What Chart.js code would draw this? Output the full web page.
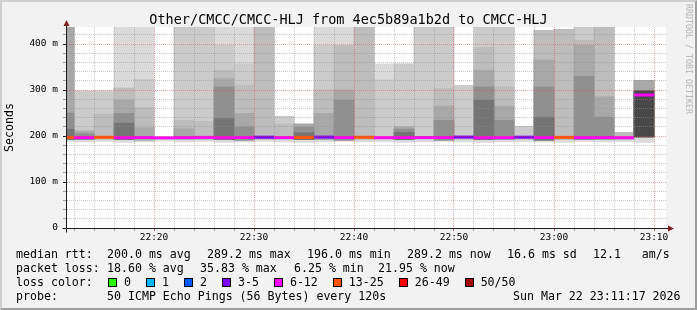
<!DOCTYPE html>
<html>
<head>
<meta charset="utf-8">
<script src="https://cdn.jsdelivr.net/npm/chart.js@4.4.1/dist/chart.umd.min.js"></script>
<style>
  body { margin: 0; background: #f2f2f2; }
  #wrap { position: relative; width: 697px; height: 310px; background: #f2f2f2; overflow: hidden;
          font-family: "DejaVu Sans Mono", monospace; color: #000; }
  #chart { position: absolute; left: 0; top: 0; }
  #frame { position: absolute; left: 0; top: 0; width: 697px; height: 310px; box-sizing: border-box;
           border-style: solid; border-width: 2px; border-color: #cfcfcf #9e9e9e #9e9e9e #cfcfcf; }
  .t { position: absolute; white-space: pre; font-size: 11.6px; line-height: 14px; }
  #title { position: absolute; left: 0; width: 697px; top: 11px; text-align: center; font-size: 13.5px;
           line-height: 16px; white-space: pre; }
  #mark { position: absolute; left: 694px; top: 4px; transform: rotate(90deg); transform-origin: 0 0;
          font-size: 8.3px; line-height: 10px; color: #b4b4b4; white-space: pre; }
  #lossLegend { position: absolute; left: 108px; top: 275px; display: flex; align-items: center;
                font-size: 11.6px; line-height: 14px; white-space: pre; }
  #lossLegend .box { width: 7px; height: 7px; border: 1px solid #000; margin-right: 7px; }
  #lossLegend .lbl { margin-right: 15px; }
</style>
</head>
<body>
<div id="wrap">
  <canvas id="chart" width="697" height="310"></canvas>
  <div id="title">Other/CMCC/CMCC-HLJ from 4ec5b89a1b2d to CMCC-HLJ</div>
  <div id="mark">RRDTOOL / TOBI OETIKER</div>

  <div class="t" style="left:16px;top:247px">median rtt:</div>
  <div class="t" style="left:107px;top:247px">200.0 ms avg</div>
  <div class="t" style="left:207px;top:247px">289.2 ms max</div>
  <div class="t" style="left:307px;top:247px">196.0 ms min</div>
  <div class="t" style="left:407px;top:247px">289.2 ms now</div>
  <div class="t" style="left:507px;top:247px">16.6 ms sd</div>
  <div class="t" style="left:593px;top:247px">12.1   am/s</div>

  <div class="t" style="left:16px;top:261px">packet loss:</div>
  <div class="t" style="left:107px;top:261px">18.60 % avg</div>
  <div class="t" style="left:200px;top:261px">35.83 % max</div>
  <div class="t" style="left:294px;top:261px">6.25 % min</div>
  <div class="t" style="left:378px;top:261px">21.95 % now</div>

  <div class="t" style="left:16px;top:275px">loss color:</div>
  <div id="lossLegend"></div>

  <div class="t" style="left:16px;top:289px">probe:</div>
  <div class="t" style="left:107px;top:289px">50 ICMP Echo Pings (56 Bytes) every 120s</div>
  <div class="t" style="left:513px;top:289px">Sun Mar 22 23:11:17 2026</div>

  <div id="frame"></div>
</div>
<script>
// 2 minute probe slots (start time of each slot)
const timeSlots = ['22:10', '22:12', '22:14', '22:16', '22:18', '22:20', '22:22', '22:24', '22:26', '22:28',
                   '22:30', '22:32', '22:34', '22:36', '22:38', '22:40', '22:42', '22:44', '22:46', '22:48',
                   '22:50', '22:52', '22:54', '22:56', '22:58', '23:00', '23:02', '23:04', '23:06', '23:08'];

// median rtt per slot (ms)
const medianRtt = [197.0, 196.6, 197.2, 196.4, 196.8, 196.0, 196.6, 197.0, 196.4, 196.8,
                   197.4, 196.6, 197.0, 197.6, 196.6, 197.2, 196.4, 196.8, 196.6, 196.8,
                   197.6, 196.4, 196.6, 197.4, 196.8, 197.0, 196.6, 196.8, 196.4, 289.2];

// loss class per slot (index into lossLabels)
const lossClass = [5, 4, 5, 4, 4, 4, 4, 4, 4, 4, 3, 4, 5, 3, 4, 5, 4, 4, 4, 4,
                   3, 4, 4, 3, 4, 5, 4, 4, 4, 4];

const lossLabels = ['0', '1', '2', '3-5', '6-12', '13-25', '26-49', '50/50'];
const lossColors = ['#26ff00', '#00b8ff', '#0059ff', '#7e00ff', '#ff00ff', '#ff5500', '#ff0000', '#a10000'];

// smoke: lowest ping and the bottom of the inner bands (ms)
const smokeLo = [188, 187, 188, 186, 187, 189, 187, 188, 186, 187, 188, 187, 186, 187, 188,
                 187, 188, 186, 187, 188, 187, 186, 187, 188, 187, 186, 188, 187, 188, 186];
const coreLo = [192, 192, 193, 192, 191, 192, 193, 192, 192, 191, 192, 193, 192, 192, 191,
                192, 193, 192, 192, 191, 192, 192, 193, 192, 191, 192, 192, 193, 192, 198];

// smoke band tops, outer (light) to inner (dark), ms; null = no band
const smoke1 = [450, 298, 298, 450, 450, 198, 450, 450, 450, 450, 450, 243, 226, 450, 450,
                450, 357, 357, 450, 450, 310, 450, 450, 221, 430, 432, 450, 450, 208, 321];
const smoke2 = [450, 298, 298, 304, 323, null, 450, 450, 397, 357, 450, 243, 226, 397, 397,
                450, 322, 357, 450, 450, 310, 450, 450, 221, 430, 432, 450, 450, 208, 321];
const smoke3 = [450, 213, 248, 304, 262, null, 234, 232, 343, 310, 450, 226, 226, 300, 397,
                450, null, null, null, 303, null, 393, 307, null, 430, 432, 408, 450, 208, 321];
const smoke4 = [450, 210, null, 278, 218, null, 216, null, 325, 249, null, null, 226, 249, 300,
                null, null, 220, null, 265, null, 343, 265, null, 365, null, 397, 285, null, 321];
const smoke5 = [250, 205, null, 249, null, null, null, null, 307, 220, null, null, 219, null, 278,
                null, null, 215, null, 234, null, 307, 234, null, 307, null, 330, 241, null, 298];
const smoke6 = [215, null, null, 228, null, null, null, null, 238, null, null, null, 207, null, null,
                null, null, 208, null, null, null, 278, null, null, 241, null, null, null, null, 298];
const smoke7 = [null, null, null, null, null, null, null, null, null, null, null, null, null, null, null,
                null, null, null, null, null, null, null, null, null, null, null, null, null, null, 298];

const smokeShades = ['#dadada', '#cbcbcb', '#bdbdbd', '#a8a8a8', '#909090', '#747474', '#484848'];

const xTickLabels = ['22:20', '22:30', '22:40', '22:50', '23:00', '23:10'];
const yTickLabels = ['0', '100 m', '200 m', '300 m', '400 m'];

const toMin = s => { const [h, m] = s.split(':').map(Number); return (h - 22) * 60 + m; };
const slotLen = 2;
const viewStart = 11.2, viewEnd = 71.2;   // minutes after 22:00
const yTop = 437;

const majorGrid = 'rgba(222,79,79,0.5)';
const minorGrid = 'rgba(143,143,143,0.5)';

// loss legend
const lossLegend = document.getElementById('lossLegend');
lossLabels.forEach((lab, i) => {
  const b = document.createElement('span');
  b.className = 'box';
  b.style.background = lossColors[i];
  const l = document.createElement('span');
  l.className = 'lbl';
  l.textContent = lab;
  lossLegend.appendChild(b);
  lossLegend.appendChild(l);
});

const smokeSets = [smoke1, smoke2, smoke3, smoke4, smoke5, smoke6, smoke7].map((tops, k) => ({
  type: 'bar',
  label: 'smoke' + (k + 1),
  order: 10 - k,
  grouped: false,
  categoryPercentage: 1,
  barPercentage: 1,
  borderWidth: 0,
  backgroundColor: smokeShades[k],
  clip: 0,
  data: timeSlots.map((s, i) => ({
    x: toMin(s) + slotLen / 2,
    y: tops[i] == null ? null : [k === 0 ? smokeLo[i] : coreLo[i], tops[i]]
  }))
}));

const medianPts = [];
timeSlots.forEach((s, i) => {
  medianPts.push({ x: toMin(s), y: medianRtt[i] });
  medianPts.push({ x: toMin(s) + slotLen, y: medianRtt[i] });
  medianPts.push({ x: toMin(s) + slotLen, y: null });
});

const plotBg = {
  id: 'plotBg',
  beforeDraw(chart) {
    const { ctx, chartArea: a } = chart;
    ctx.save();
    ctx.fillStyle = '#ffffff';
    ctx.fillRect(a.left, a.top, a.right - a.left, a.bottom - a.top);
    ctx.restore();
  }
};

const axisArrows = {
  id: 'axisArrows',
  afterDraw(chart) {
    const { ctx, chartArea: a } = chart;
    const x0 = Math.round(a.left) + 0.5, y0 = Math.round(a.bottom) + 0.5;
    ctx.save();
    ctx.strokeStyle = '#1f1f1f';
    ctx.lineWidth = 1;
    ctx.beginPath();
    ctx.moveTo(x0 - 4, y0); ctx.lineTo(a.right + 3, y0);
    ctx.moveTo(x0, y0 + 4); ctx.lineTo(x0, a.top - 3);
    ctx.stroke();
    ctx.fillStyle = '#801f1f';
    ctx.beginPath();
    ctx.moveTo(x0, a.top - 7); ctx.lineTo(x0 - 3, a.top - 1); ctx.lineTo(x0 + 3, a.top - 1); ctx.closePath();
    ctx.fill();
    ctx.beginPath();
    ctx.moveTo(a.right + 8, y0); ctx.lineTo(a.right + 2, y0 - 3); ctx.lineTo(a.right + 2, y0 + 3); ctx.closePath();
    ctx.fill();
    ctx.restore();
  }
};

Chart.defaults.font.family = '"DejaVu Sans Mono", monospace';
Chart.defaults.color = '#000';

new Chart(document.getElementById('chart').getContext('2d'), {
  type: 'bar',
  data: {
    datasets: [
      {
        type: 'line',
        label: 'median',
        order: 0,
        data: medianPts,
        borderWidth: 3,
        borderColor: lossColors[4],
        borderCapStyle: 'butt',
        pointRadius: 0,
        spanGaps: false,
        clip: 0,
        segment: {
          borderColor: c => lossColors[lossClass[Math.floor(c.p0DataIndex / 3)]]
        }
      },
      ...smokeSets
    ]
  },
  options: {
    responsive: false,
    animation: false,
    events: [],
    layout: { padding: { left: 0, top: 27, right: 31, bottom: 0 } },
    plugins: { legend: { display: false }, tooltip: { enabled: false } },
    scales: {
      x: {
        type: 'linear',
        offset: false,
        min: viewStart,
        max: viewEnd,
        afterFit: s => { s.height = 82; },
        afterBuildTicks: s => {
          const t = [];
          for (let v = 12; v <= 70; v += slotLen) t.push({ value: v });
          s.ticks = t;
        },
        ticks: {
          autoSkip: false,
          maxRotation: 0,
          padding: 1,
          font: { size: 9.5 },
          callback: v => (v % 10 === 0 ? xTickLabels[(v - 20) / 10] : '')
        },
        grid: {
          z: 1,
          offset: false,
          color: c => (c.tick && c.tick.value % 10 === 0 ? majorGrid : minorGrid),
          tickColor: c => (c.tick && c.tick.value % 10 === 0 ? '#c06060' : '#a0a0a0'),
          tickLength: 3
        },
        border: { dash: [1, 1], color: '#1f1f1f', z: 2 }
      },
      y: {
        type: 'linear',
        min: 0,
        max: yTop,
        afterFit: s => { s.width = 66; },
        afterBuildTicks: s => {
          const t = [];
          for (let v = 0; v <= 420; v += 20) t.push({ value: v });
          s.ticks = t;
        },
        ticks: {
          autoSkip: false,
          padding: 5,
          font: { size: 9.5 },
          callback: v => (v % 100 === 0 ? yTickLabels[v / 100] : '')
        },
        grid: {
          z: 1,
          color: c => (c.tick && c.tick.value % 100 === 0 ? majorGrid : minorGrid),
          tickColor: c => (c.tick && c.tick.value % 100 === 0 ? '#1f1f1f' : '#a0a0a0'),
          tickLength: 3
        },
        border: { dash: [1, 1], color: '#1f1f1f', z: 2 },
        title: {
          display: true,
          text: 'Seconds',
          font: { size: 11.6 },
          padding: { top: 3.5, bottom: 0 }
        }
      }
    }
  },
  plugins: [plotBg, axisArrows]
});
</script>
</body>
</html>
